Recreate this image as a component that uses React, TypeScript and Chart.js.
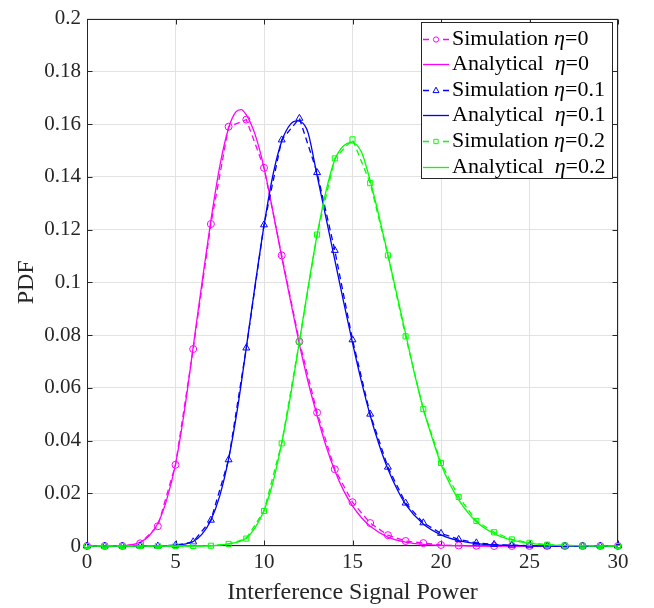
import React, { useEffect, useRef } from "react";
import { Chart, registerables } from "chart.js";

Chart.register(...registerables);

// ---------- data ----------
const simX = [0, 1, 2, 3, 4, 5, 6, 7, 8, 9, 10, 11, 12, 13, 14, 15, 16, 17, 18, 19, 20, 21, 22, 23, 24, 25, 26, 27, 28, 29, 30];
const sim0 = [0, 0, 0, 0.001, 0.0075, 0.0308, 0.0747, 0.1221, 0.159, 0.1617, 0.1434, 0.1102, 0.0775, 0.0506, 0.0291, 0.0166, 0.0087, 0.0041, 0.0019, 0.0011, 0.0004, 0.0002, 0.0001, 0, 0, 0, 0, 0, 0, 0, 0];
const sim1 = [0, 0, 0, 0, 0, 0.0003, 0.0016, 0.0098, 0.0327, 0.0751, 0.1218, 0.154, 0.1622, 0.1416, 0.1121, 0.0782, 0.05, 0.0299, 0.0163, 0.0088, 0.0048, 0.0025, 0.0012, 0.0006, 0.0003, 0.0001, 0, 0, 0, 0, 0];
const sim2 = [0, 0, 0, 0, 0, 0, 0, 0.0001, 0.0008, 0.0028, 0.0133, 0.0389, 0.0775, 0.1181, 0.147, 0.1542, 0.1376, 0.1102, 0.0795, 0.0519, 0.0315, 0.0186, 0.0095, 0.0052, 0.0025, 0.0012, 0.0005, 0.0002, 0.0001, 0, 0];

const ana0X = [0, 1, 2, 2.5, 3, 3.5, 4, 4.5, 5, 5.5, 6, 6.5, 7, 7.5, 8, 8.4, 8.7, 9, 9.5, 10, 10.5, 11, 11.5, 12, 12.5, 13, 13.5, 14, 14.5, 15, 15.5, 16, 17, 18, 19, 20, 21, 22, 30];
const ana0 = [0, 0, 0.0001, 0.0004, 0.0014, 0.0038, 0.0085, 0.0175, 0.031, 0.051, 0.0755, 0.1, 0.1235, 0.144, 0.1585, 0.1645, 0.1655, 0.1635, 0.156, 0.1435, 0.127, 0.1095, 0.093, 0.0765, 0.062, 0.0495, 0.038, 0.0285, 0.021, 0.0152, 0.0108, 0.0075, 0.0034, 0.0015, 0.0006, 0.0002, 0.0001, 0, 0];

const ana1X = [0, 4, 4.5, 5, 5.5, 6, 6.5, 7, 7.5, 8, 8.5, 9, 9.5, 10, 10.5, 11, 11.5, 11.9, 12.3, 12.5, 13, 13.5, 14, 14.5, 15, 15.5, 16, 16.5, 17, 17.5, 18, 19, 20, 21, 22, 23, 24, 25, 26, 30];
const ana1 = [0, 0, 0.0001, 0.0003, 0.0007, 0.0017, 0.0045, 0.0098, 0.019, 0.033, 0.052, 0.0752, 0.099, 0.1215, 0.1405, 0.1535, 0.16, 0.1612, 0.1595, 0.1565, 0.1405, 0.1245, 0.1085, 0.0925, 0.077, 0.0625, 0.0495, 0.0385, 0.0292, 0.0218, 0.0158, 0.0083, 0.0042, 0.002, 0.0009, 0.0004, 0.0002, 0.0001, 0, 0];

const ana2X = [0, 6, 7, 7.5, 8, 8.5, 9, 9.5, 10, 10.5, 11, 11.5, 12, 12.5, 13, 13.5, 14, 14.5, 14.95, 15.5, 16, 16.5, 17, 17.5, 18, 18.5, 19, 19.5, 20, 20.5, 21, 22, 23, 24, 25, 26, 27, 28, 29, 30];
const ana2 = [0, 0, 0.0001, 0.0003, 0.0008, 0.0015, 0.003, 0.007, 0.0135, 0.024, 0.039, 0.057, 0.0775, 0.0985, 0.118, 0.1345, 0.1465, 0.1518, 0.153, 0.1495, 0.1385, 0.125, 0.1105, 0.0955, 0.0805, 0.0655, 0.052, 0.041, 0.031, 0.0235, 0.0175, 0.0092, 0.0047, 0.0022, 0.001, 0.0004, 0.0002, 0.0001, 0, 0];

const xTicks = [0, 5, 10, 15, 20, 25, 30];
const xTickLabels = ["0", "5", "10", "15", "20", "25", "30"];
const yTicks = [0, 0.02, 0.04, 0.06, 0.08, 0.1, 0.12, 0.14, 0.16, 0.18, 0.2];
const yTickLabels = ["0", "0.02", "0.04", "0.06", "0.08", "0.1", "0.12", "0.14", "0.16", "0.18", "0.2"];

const legendNames = ["Simulation ", "Analytical  ", "Simulation ", "Analytical  ", "Simulation ", "Analytical  "];
const legendEta = ["0", "0", "0.1", "0.1", "0.2", "0.2"];

const xTitle = "Interference Signal Power";
const yTitle = "PDF";

// ---------- styles ----------
const FONT = "'Liberation Serif', 'Times New Roman', serif";
const TEXT = "#262626";
const MAGENTA = "#ff00ff";
const BLUE = "#0000ff";
const GREEN = "#00ff00";

const pts = (xs: number[], ys: number[]) => xs.map((x, i) => ({ x, y: ys[i] }));

const framePlugin = {
  id: "frame",
  beforeDatasetsDraw(chart: any) {
    const { ctx, chartArea, scales } = chart;
    const { left, right, top, bottom } = chartArea;
    const L = Math.round(left) + 0.5;
    const R = Math.round(right) - 0.5;
    const T = Math.round(top) + 0.5;
    const B = Math.round(bottom) - 0.5;
    ctx.save();
    ctx.strokeStyle = TEXT;
    ctx.lineWidth = 1;
    ctx.strokeRect(L, T, R - L, B - T);
    const tl = 5;
    ctx.beginPath();
    xTicks.forEach((v) => {
      const px = Math.round(scales.x.getPixelForValue(v)) + 0.5;
      ctx.moveTo(px, B);
      ctx.lineTo(px, B - tl);
      ctx.moveTo(px, T);
      ctx.lineTo(px, T + tl);
    });
    yTicks.forEach((v) => {
      const py = Math.round(scales.y.getPixelForValue(v)) + 0.5;
      ctx.moveTo(L, py);
      ctx.lineTo(L + tl, py);
      ctx.moveTo(R, py);
      ctx.lineTo(R - tl, py);
    });
    ctx.stroke();
    ctx.restore();
  },
};

const legendPlugin = {
  id: "customLegend",
  afterDraw(chart: any) {
    const { ctx } = chart;
    const bx = 421, by = 22, bw = 191, bh = 156;
    ctx.save();
    ctx.fillStyle = "#ffffff";
    ctx.fillRect(bx, by, bw, bh);
    ctx.strokeStyle = TEXT;
    ctx.lineWidth = 1;
    ctx.strokeRect(bx + 0.5, by + 0.5, bw, bh);
    const rowH = 25.6;
    const y0 = 38.5;
    const ds = chart.data.datasets;
    for (let i = 0; i < ds.length; i++) {
      const d = ds[i];
      const cy = Math.round(y0 + i * rowH) + 0.5;
      ctx.strokeStyle = d.borderColor;
      ctx.lineWidth = d.borderWidth;
      ctx.setLineDash(d.borderDash || []);
      ctx.beginPath();
      ctx.moveTo(423, cy);
      ctx.lineTo(449, cy);
      ctx.stroke();
      ctx.setLineDash([]);
      if (d.pointRadius > 0) {
        ctx.fillStyle = "#ffffff";
        ctx.fillRect(431, cy - 4, 10, 8);
        ctx.lineWidth = 1;
        ctx.strokeStyle = d.borderColor;
        const r = d.pointRadius * 0.75;
        ctx.beginPath();
        if (d.pointStyle === "circle") {
          ctx.arc(436, cy, r, 0, Math.PI * 2);
        } else if (d.pointStyle === "triangle") {
          ctx.moveTo(436, cy - r * 1.1);
          ctx.lineTo(436 + r, cy + r * 0.7);
          ctx.lineTo(436 - r, cy + r * 0.7);
          ctx.closePath();
        } else {
          ctx.rect(436 - r * 0.8, cy - r * 0.8, r * 1.6, r * 1.6);
        }
        ctx.stroke();
      }
      ctx.fillStyle = "#000000";
      ctx.textBaseline = "middle";
      ctx.textAlign = "left";
      let tx = 452;
      ctx.font = `22px ${FONT}`;
      ctx.fillText(legendNames[i], tx, cy);
      tx += ctx.measureText(legendNames[i]).width;
      ctx.font = `italic 22px ${FONT}`;
      ctx.fillText("η", tx, cy);
      tx += ctx.measureText("η").width;
      ctx.font = `22px ${FONT}`;
      ctx.fillText("=" + legendEta[i], tx, cy);
    }
    ctx.restore();
  },
};

export default function App() {
  const ref = useRef<HTMLCanvasElement | null>(null);
  useEffect(() => {
    if (!ref.current) return;
    const simStyle = (color: string, style: string, r: number) => ({
      borderColor: color,
      backgroundColor: color,
      borderWidth: 1.3,
      borderDash: [6, 4],
      pointStyle: style,
      pointRadius: r,
      pointBorderWidth: 1,
      pointBorderColor: color,
      pointBackgroundColor: "rgba(0,0,0,0)",
      tension: 0,
      clip: false as any,
    });
    const anaStyle = (color: string) => ({
      borderColor: color,
      backgroundColor: color,
      borderWidth: 1.3,
      pointRadius: 0,
      cubicInterpolationMode: "monotone" as const,
      clip: false as any,
    });
    const chart = new Chart(ref.current, {
      type: "line",
      data: {
        datasets: [
          { label: "sim0", data: pts(simX, sim0), ...simStyle(MAGENTA, "circle", 3.5), order: 6 },
          { label: "ana0", data: pts(ana0X, ana0), ...anaStyle(MAGENTA), order: 5 },
          { label: "sim1", data: pts(simX, sim1), ...simStyle(BLUE, "triangle", 4), order: 4 },
          { label: "ana1", data: pts(ana1X, ana1), ...anaStyle(BLUE), order: 3 },
          { label: "sim2", data: pts(simX, sim2), ...simStyle(GREEN, "rect", 3.6), order: 2 },
          { label: "ana2", data: pts(ana2X, ana2), ...anaStyle(GREEN), order: 1 },
        ] as any,
      },
      options: {
        animation: false,
        responsive: false,
        layout: { padding: { left: 0, right: 36, top: 15, bottom: 0 } },
        plugins: { legend: { display: false }, tooltip: { enabled: false } },
        scales: {
          x: {
            type: "linear",
            min: 0,
            max: 30,
            afterBuildTicks: (s: any) => {
              s.ticks = xTicks.map((v) => ({ value: v }));
            },
            afterFit: (s: any) => {
              s.height = 62;
            },
            ticks: {
              callback: (_v: any, i: number) => xTickLabels[i],
              font: { family: FONT, size: 21 },
              color: TEXT,
              padding: 4,
              maxRotation: 0,
              autoSkip: false,
            },
            grid: { color: "#e2e2e2", drawTicks: false, lineWidth: 1 },
            border: { display: false },
            title: {
              display: true,
              text: xTitle,
              font: { family: FONT, size: 24 },
              color: TEXT,
              padding: { top: 0, bottom: 1 },
            },
          },
          y: {
            type: "linear",
            min: 0,
            max: 0.2,
            afterBuildTicks: (s: any) => {
              s.ticks = yTicks.map((v) => ({ value: v }));
            },
            afterFit: (s: any) => {
              s.width = 87;
            },
            ticks: {
              callback: (_v: any, i: number) => yTickLabels[i],
              font: { family: FONT, size: 21 },
              color: TEXT,
              padding: 6,
              autoSkip: false,
            },
            grid: { color: "#e2e2e2", drawTicks: false, lineWidth: 1 },
            border: { display: false },
            title: {
              display: true,
              text: yTitle,
              font: { family: FONT, size: 24 },
              color: TEXT,
              padding: { top: 12, bottom: 0 },
            },
          },
        },
      },
      plugins: [framePlugin, legendPlugin],
    });
    return () => chart.destroy();
  }, []);
  return (
    <div style={{ position: "absolute", left: 0, top: 0, width: 654, height: 608, background: "#fff" }}>
      <canvas ref={ref} width={654} height={608} style={{ display: "block" }} />
    </div>
  );
}
